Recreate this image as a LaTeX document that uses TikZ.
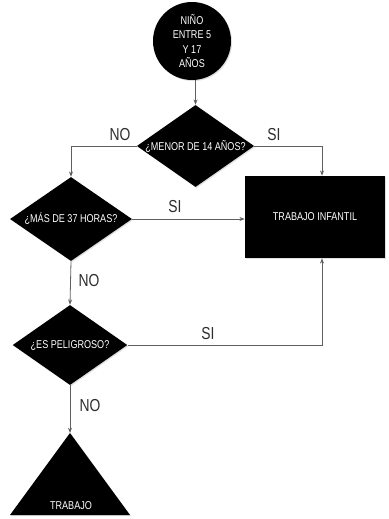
\documentclass[tikz,border=0pt]{standalone}
\usepackage{fontspec}
\setmainfont{Liberation Sans}[FakeStretch=0.8]
\usepackage{tikz}
\usetikzlibrary{shapes.geometric,shadows,arrows.meta}

\definecolor{lineGray}{RGB}{95,95,95}
\definecolor{textGray}{RGB}{45,45,45}

\newcommand{\zerowide}[1]{\makebox[0pt]{#1}}

\tikzset{
  shade/.style={drop shadow={shadow xshift=0.8pt,shadow yshift=-0.8pt,opacity=0.25}},
  inside/.style={text=white,font=\fontsize{8.5}{10.9}\selectfont,align=center},
  decision/.style={diamond,fill=black,inner sep=0pt,shade,inside},
  answer/.style={text=textGray,font=\fontsize{13}{15}\selectfont,inner sep=0.75pt},
  flow/.style={draw=lineGray,line width=0.6pt,-{Stealth[length=4pt,width=3pt]}},
  plain/.style={draw=lineGray,line width=0.6pt}
}

\begin{document}
\begin{tikzpicture}[x=0.75pt,y=0.75pt,yscale=-1,xscale=1]
\useasboundingbox (0,0) rectangle (389,519);

%Shape: Circle [id:start]
\node (start) [circle,fill=black,minimum size=58.5pt,inner sep=0pt,shade,inside] at (192,41) {NIÑO\\ENTRE 5\\Y 17\\AÑOS};
%Shape: Diamond [id:menor]
\node (menor) [decision,minimum width=88pt,minimum height=61.5pt] at (195.5,146) {\zerowide{¿MENOR DE 14 AÑOS?}};
%Shape: Rectangle [id:infantil]
\node (infantil) [rectangle,fill=black,minimum width=105pt,minimum height=61.5pt,inner sep=0pt,shade,inside] at (315,217) {TRABAJO INFANTIL};
%Shape: Diamond [id:horas]
\node (horas) [decision,minimum width=91.5pt,minimum height=63pt] at (71,219) {\zerowide{¿MÁS DE 37 HORAS?}};
%Shape: Diamond [id:peligro]
\node (peligro) [decision,minimum width=86pt,minimum height=60pt] at (70,345) {\zerowide{¿ES PELIGROSO?}};
%Shape: Triangle [id:trabajo]
\coordinate (apex) at (70,433);
\fill[black,shade] (apex) -- (130,515) -- (10,515) -- cycle ;
\node (trabajo) [inside,inner sep=0pt] at (71,506) {TRABAJO};

%Connectors
\draw[flow] (start.south -| menor.north) -- (menor.north) ;
\draw[flow] (menor.west) -| (horas.north) ;
\draw[flow] (menor.east) -| ([xshift=5.25pt]infantil.north) ;
\draw[flow] (horas.east) -- (horas.east -| infantil.west) ;
\draw[flow] (horas.south) -- (peligro.north) ;
\draw[flow] (peligro.east) -| ([xshift=5.25pt]infantil.south) ;
\draw[flow] (peligro.south) -- (apex) ;

% Text Node
\node (no1) [answer] at (120,135) {NO};
% Text Node
\node (si1) [answer] at (274,135) {SI};
% Text Node
\node (si2) [answer] at (175,207) {SI};
% Text Node
\node (no2) [answer] at (89,281) {NO};
% Text Node
\node (si3) [answer] at (208,334) {SI};
% Text Node
\node (no3) [answer] at (90,406) {NO};

\end{tikzpicture}
\end{document}
